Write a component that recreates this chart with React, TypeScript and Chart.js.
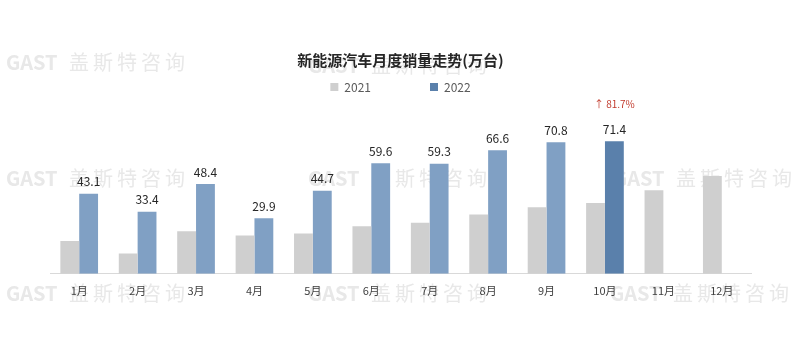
import { useEffect, useRef } from "react";
import { Chart, registerables } from "chart.js";

Chart.register(...registerables);

const months = ["1月", "2月", "3月", "4月", "5月", "6月", "7月", "8月", "9月", "10月", "11月", "12月"];
const seriesNames = ["2021", "2022"];
const sales2021 = [17.7, 11.0, 22.9, 20.6, 21.7, 25.6, 27.5, 32.0, 35.9, 38.1, 45.0, 52.7];
const sales2022: (number | null)[] = [43.1, 33.4, 48.4, 29.9, 44.7, 59.6, 59.3, 66.6, 70.8, 71.4, null, null];
const titleText = "新能源汽车月度销量走势(万台)";
const growthText = "↑ 81.7%";
const highlightIndex = 9;
const watermarkLatin = "GAST";
const watermarkChars = ["盖", "斯", "特", "咨", "询"];

const FONT = '"Noto Sans CJK SC", "Noto Sans", sans-serif';
const GRAY = "#cfcfcf";
const BLUE = "#80a0c4";
const BLUE_DARK = "#5a80ab";

const watermarkPlugin = {
  id: "watermark",
  beforeDraw(chart: any) {
    const ctx = chart.ctx;
    ctx.save();
    ctx.fillStyle = "#e8e8e8";
    ctx.textBaseline = "middle";
    const spots = [
      [6, 62], [308, 65],
      [6, 178], [308, 178], [613, 178],
      [6, 293], [308, 293], [610, 293],
    ];
    for (const [x, y] of spots) {
      ctx.font = `bold 20px ${FONT}`;
      ctx.textAlign = "left";
      ctx.fillText(watermarkLatin, x, y);
      ctx.textAlign = "center";
      ctx.font = `20px ${FONT}`;
      watermarkChars.forEach((c, i) => ctx.fillText(c, x + 73 + i * 24, y));
    }
    ctx.restore();
  },
};

const labelPlugin = {
  id: "valueLabels",
  afterDatasetsDraw(chart: any) {
    const ctx = chart.ctx;
    const meta = chart.getDatasetMeta(1);
    ctx.save();
    ctx.textAlign = "center";
    ctx.textBaseline = "middle";
    ctx.fillStyle = "#262626";
    ctx.font = `12px ${FONT}`;
    meta.data.forEach((bar: any, i: number) => {
      const v = sales2022[i];
      if (v == null) return;
      ctx.fillText(v.toFixed(1), bar.x, bar.y - 12);
    });
    const hb = meta.data[highlightIndex];
    if (hb) {
      ctx.fillStyle = "#c0392b";
      ctx.font = `10px ${FONT}`;
      ctx.fillText(growthText, hb.x, hb.y - 37);
    }
    ctx.restore();
  },
};

export default function App() {
  const ref = useRef<HTMLCanvasElement>(null);
  useEffect(() => {
    document.body.style.margin = "0";
    if (!ref.current) return;
    const chart = new Chart(ref.current, {
      type: "bar",
      data: {
        labels: months,
        datasets: [
          {
            label: seriesNames[0],
            data: sales2021,
            backgroundColor: GRAY,
            categoryPercentage: 0.645,
            barPercentage: 1,
          },
          {
            label: seriesNames[1],
            data: sales2022 as any,
            backgroundColor: sales2022.map((_, i) => (i === highlightIndex ? BLUE_DARK : BLUE)),
            categoryPercentage: 0.645,
            barPercentage: 1,
          },
        ],
      },
      options: {
        responsive: false,
        animation: false,
        layout: { padding: { left: 50, right: 49, top: 0, bottom: 48 } },
        plugins: {
          tooltip: { enabled: false },
          title: {
            display: true,
            text: titleText,
            color: "#262626",
            font: { family: FONT, size: 15, weight: "bold" },
            padding: { top: 51, bottom: -47 },
          },
          legend: {
            display: true,
            labels: {
              color: "#595959",
              font: { family: FONT, size: 12 },
              boxWidth: 8,
              boxHeight: 8,
              padding: 59,
              generateLabels: () => [
                { text: seriesNames[0], fillStyle: GRAY, strokeStyle: GRAY, lineWidth: 0, datasetIndex: 0, fontColor: "#595959" },
                { text: seriesNames[1], fillStyle: BLUE_DARK, strokeStyle: BLUE_DARK, lineWidth: 0, datasetIndex: 1, fontColor: "#595959" },
              ],
            },
          },
        },
        scales: {
          x: {
            grid: { display: false, drawTicks: false },
            border: { display: true, color: "#d9d9d9", width: 1 },
            ticks: { color: "#404040", font: { family: FONT, size: 11 }, padding: 10 },
          },
          y: {
            display: false,
            min: 0,
            max: 92,
          },
        },
      },
      plugins: [watermarkPlugin, labelPlugin],
    });
    return () => chart.destroy();
  }, []);
  return (
    <div style={{ width: 800, height: 355, background: "#fff" }}>
      <canvas ref={ref} width={800} height={355} />
    </div>
  );
}
